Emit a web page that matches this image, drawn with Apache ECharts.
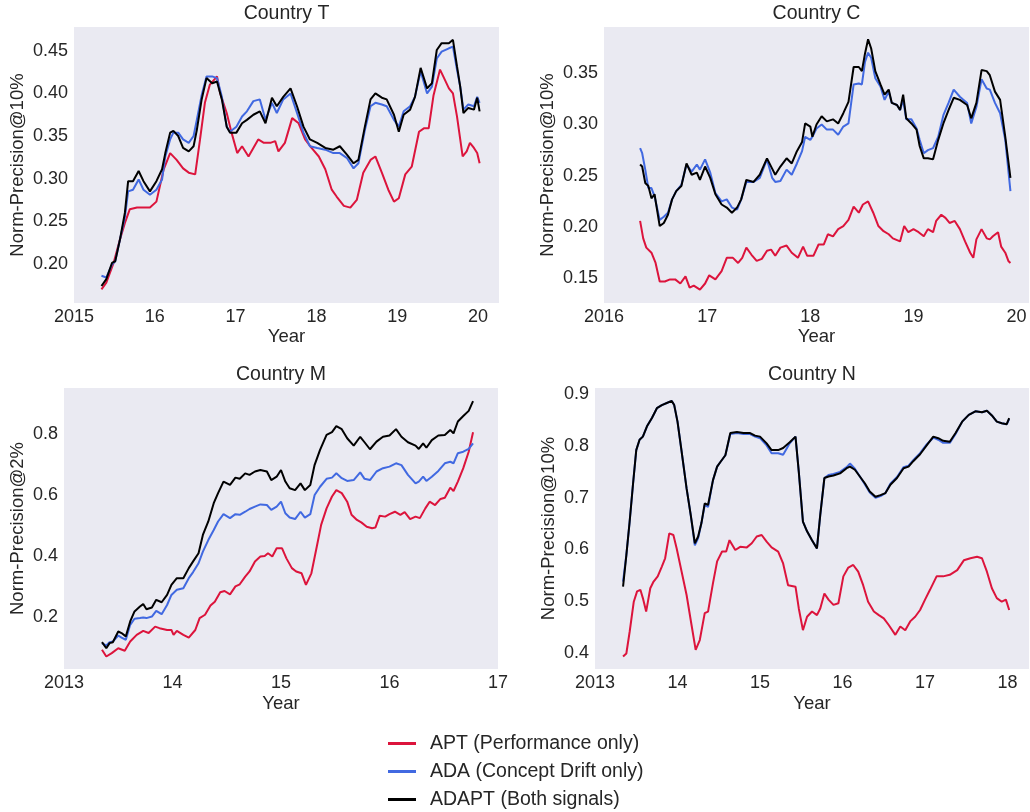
<!DOCTYPE html>
<html>
<head>
<meta charset="utf-8">
<script src="https://cdn.jsdelivr.net/npm/echarts@6/dist/echarts.min.js"></script>
<style>html,body{margin:0;padding:0;background:#fff}#c{width:1030px;height:812px}</style>
</head>
<body>
<div id="c"></div>
<script>
// ---------- Country T ----------
const tYears = [2015.34,2015.40,2015.47,2015.51,2015.57,2015.63,2015.67,2015.73,2015.80,2015.86,2015.94,2016.02,2016.09,2016.13,2016.19,2016.23,2016.29,2016.35,2016.42,2016.48,2016.52,2016.58,2016.64,2016.71,2016.77,2016.83,2016.89,2016.93,2017.01,2017.08,2017.14,2017.22,2017.30,2017.37,2017.45,2017.51,2017.59,2017.68,2017.76,2017.84,2017.92,2018.01,2018.11,2018.21,2018.29,2018.38,2018.46,2018.52,2018.60,2018.67,2018.73,2018.81,2018.87,2018.96,2019.02,2019.08,2019.16,2019.22,2019.29,2019.37,2019.43,2019.49,2019.55,2019.64,2019.69,2019.74,2019.78,2019.82,2019.88,2019.95,2019.99,2020.02];
const tADAPT = [0.174,0.182,0.201,0.203,0.229,0.26,0.297,0.297,0.309,0.297,0.285,0.297,0.311,0.33,0.354,0.356,0.35,0.336,0.332,0.338,0.357,0.393,0.418,0.412,0.414,0.393,0.361,0.354,0.354,0.365,0.369,0.375,0.379,0.365,0.395,0.385,0.396,0.406,0.385,0.361,0.346,0.342,0.336,0.334,0.338,0.328,0.318,0.322,0.361,0.393,0.40,0.395,0.393,0.375,0.355,0.375,0.381,0.396,0.430,0.406,0.412,0.451,0.459,0.459,0.463,0.432,0.408,0.377,0.383,0.381,0.395,0.379];
const tADA = [0.186,0.184,0.199,0.203,0.229,0.255,0.285,0.287,0.299,0.287,0.281,0.287,0.299,0.326,0.346,0.354,0.354,0.346,0.342,0.35,0.369,0.398,0.42,0.42,0.418,0.396,0.361,0.355,0.361,0.373,0.379,0.391,0.393,0.369,0.389,0.377,0.393,0.40,0.377,0.354,0.338,0.336,0.334,0.33,0.33,0.324,0.312,0.318,0.357,0.385,0.389,0.387,0.385,0.369,0.361,0.379,0.385,0.396,0.426,0.40,0.408,0.441,0.449,0.453,0.455,0.428,0.408,0.381,0.387,0.385,0.396,0.389];
const tYearsAPT = [2015.34,2015.40,2015.49,2015.57,2015.63,2015.69,2015.78,2015.86,2015.94,2016.02,2016.11,2016.19,2016.27,2016.35,2016.42,2016.50,2016.56,2016.62,2016.68,2016.77,2016.81,2016.89,2016.95,2017.02,2017.08,2017.16,2017.22,2017.28,2017.35,2017.43,2017.49,2017.53,2017.61,2017.70,2017.78,2017.86,2017.94,2018.03,2018.11,2018.19,2018.25,2018.34,2018.42,2018.50,2018.58,2018.67,2018.73,2018.81,2018.89,2018.96,2019.02,2019.10,2019.18,2019.27,2019.33,2019.39,2019.45,2019.53,2019.57,2019.64,2019.69,2019.74,2019.81,2019.86,2019.90,2019.95,2019.99,2020.02];
const tAPT = [0.170,0.178,0.201,0.229,0.248,0.264,0.266,0.266,0.266,0.273,0.311,0.33,0.322,0.312,0.307,0.305,0.346,0.389,0.410,0.42,0.40,0.377,0.354,0.33,0.338,0.326,0.336,0.346,0.342,0.342,0.344,0.332,0.342,0.371,0.365,0.346,0.336,0.326,0.311,0.287,0.279,0.268,0.266,0.275,0.307,0.322,0.326,0.307,0.287,0.273,0.277,0.305,0.314,0.355,0.359,0.359,0.398,0.428,0.420,0.406,0.40,0.373,0.326,0.332,0.342,0.336,0.33,0.318];

// ---------- Country C ----------
const cYears = [2016.35,2016.37,2016.40,2016.43,2016.46,2016.49,2016.54,2016.58,2016.62,2016.66,2016.70,2016.75,2016.80,2016.85,2016.90,2016.93,2016.98,2017.03,2017.08,2017.14,2017.19,2017.24,2017.29,2017.33,2017.38,2017.45,2017.51,2017.58,2017.63,2017.66,2017.71,2017.77,2017.82,2017.87,2017.92,2017.95,2018.00,2018.02,2018.06,2018.11,2018.16,2018.22,2018.27,2018.32,2018.37,2018.42,2018.47,2018.50,2018.53,2018.56,2018.59,2018.63,2018.68,2018.72,2018.76,2018.79,2018.84,2018.87,2018.90,2018.93,2018.98,2019.03,2019.06,2019.10,2019.14,2019.19,2019.24,2019.29,2019.34,2019.39,2019.45,2019.52,2019.56,2019.61,2019.66,2019.71,2019.74,2019.79,2019.84,2019.89,2019.94];
const cADAPT = [0.261,0.259,0.243,0.24,0.228,0.232,0.201,0.204,0.212,0.227,0.235,0.24,0.262,0.251,0.253,0.246,0.259,0.248,0.232,0.222,0.219,0.214,0.219,0.227,0.246,0.244,0.251,0.267,0.257,0.251,0.259,0.267,0.262,0.274,0.283,0.301,0.298,0.288,0.30,0.308,0.303,0.305,0.301,0.311,0.322,0.356,0.356,0.352,0.369,0.383,0.374,0.352,0.339,0.329,0.334,0.321,0.319,0.314,0.329,0.306,0.301,0.295,0.279,0.267,0.267,0.266,0.285,0.301,0.314,0.326,0.324,0.319,0.306,0.321,0.353,0.352,0.348,0.332,0.324,0.288,0.248];
const cADA = [0.277,0.272,0.256,0.238,0.238,0.23,0.207,0.21,0.214,0.227,0.235,0.241,0.261,0.254,0.261,0.256,0.266,0.253,0.233,0.225,0.227,0.219,0.217,0.227,0.244,0.244,0.248,0.266,0.248,0.244,0.245,0.256,0.251,0.262,0.274,0.288,0.285,0.288,0.296,0.30,0.295,0.295,0.29,0.298,0.301,0.339,0.34,0.339,0.361,0.37,0.365,0.345,0.337,0.324,0.332,0.321,0.319,0.314,0.324,0.305,0.305,0.296,0.285,0.272,0.275,0.277,0.288,0.309,0.321,0.334,0.327,0.321,0.301,0.317,0.344,0.335,0.334,0.321,0.311,0.285,0.235];
const cYearsAPT = [2016.35,2016.38,2016.41,2016.46,2016.50,2016.54,2016.59,2016.64,2016.69,2016.74,2016.79,2016.83,2016.87,2016.93,2016.98,2017.02,2017.08,2017.14,2017.19,2017.25,2017.30,2017.34,2017.38,2017.43,2017.48,2017.53,2017.58,2017.62,2017.66,2017.71,2017.77,2017.82,2017.88,2017.93,2017.97,2018.03,2018.08,2018.13,2018.17,2018.22,2018.27,2018.32,2018.37,2018.42,2018.47,2018.51,2018.56,2018.61,2018.66,2018.71,2018.76,2018.80,2018.87,2018.91,2018.95,2019.00,2019.05,2019.10,2019.14,2019.19,2019.22,2019.27,2019.31,2019.35,2019.40,2019.45,2019.50,2019.55,2019.58,2019.61,2019.66,2019.71,2019.74,2019.77,2019.82,2019.85,2019.89,2019.92,2019.94];
const cAPT = [0.206,0.189,0.18,0.175,0.165,0.147,0.147,0.149,0.149,0.145,0.152,0.141,0.143,0.139,0.145,0.153,0.149,0.157,0.17,0.17,0.165,0.17,0.18,0.173,0.167,0.169,0.177,0.178,0.172,0.18,0.182,0.175,0.17,0.181,0.172,0.172,0.183,0.183,0.193,0.191,0.198,0.201,0.207,0.22,0.214,0.222,0.225,0.214,0.201,0.196,0.193,0.189,0.186,0.201,0.195,0.198,0.195,0.191,0.198,0.195,0.206,0.212,0.209,0.204,0.206,0.198,0.186,0.175,0.17,0.188,0.198,0.189,0.188,0.191,0.195,0.181,0.175,0.167,0.165];

// ---------- Country M ----------
const mYears = [2013.35,2013.39,2013.42,2013.45,2013.50,2013.53,2013.57,2013.61,2013.65,2013.70,2013.73,2013.76,2013.81,2013.85,2013.90,2013.95,2013.99,2014.04,2014.10,2014.15,2014.19,2014.24,2014.28,2014.33,2014.38,2014.42,2014.47,2014.53,2014.58,2014.62,2014.67,2014.71,2014.76,2014.81,2014.87,2014.91,2014.96,2015.00,2015.04,2015.08,2015.13,2015.18,2015.22,2015.27,2015.31,2015.36,2015.42,2015.47,2015.51,2015.56,2015.61,2015.67,2015.73,2015.77,2015.82,2015.88,2015.94,2016.00,2016.06,2016.11,2016.17,2016.24,2016.27,2016.31,2016.34,2016.39,2016.45,2016.51,2016.56,2016.59,2016.63,2016.68,2016.73,2016.77];
const mADAPT = [0.118,0.098,0.115,0.118,0.153,0.148,0.137,0.186,0.219,0.235,0.243,0.226,0.232,0.257,0.249,0.273,0.306,0.328,0.328,0.361,0.383,0.41,0.47,0.514,0.574,0.607,0.645,0.634,0.658,0.654,0.672,0.667,0.678,0.683,0.678,0.65,0.661,0.683,0.645,0.623,0.617,0.639,0.617,0.634,0.70,0.749,0.798,0.807,0.827,0.817,0.787,0.763,0.792,0.774,0.751,0.776,0.792,0.796,0.817,0.792,0.774,0.763,0.752,0.770,0.756,0.781,0.796,0.798,0.814,0.803,0.842,0.86,0.877,0.909];
const mADA = [0.115,0.107,0.118,0.12,0.14,0.133,0.126,0.175,0.195,0.197,0.199,0.197,0.202,0.221,0.21,0.24,0.273,0.29,0.295,0.328,0.348,0.377,0.415,0.453,0.486,0.514,0.538,0.525,0.538,0.536,0.546,0.555,0.563,0.570,0.568,0.552,0.563,0.579,0.541,0.527,0.522,0.546,0.527,0.538,0.601,0.628,0.654,0.658,0.672,0.656,0.647,0.650,0.675,0.654,0.650,0.678,0.689,0.694,0.705,0.699,0.667,0.639,0.645,0.661,0.647,0.661,0.68,0.705,0.710,0.705,0.738,0.743,0.752,0.770];
const mYearsAPT = [2013.35,2013.39,2013.44,2013.50,2013.56,2013.61,2013.67,2013.73,2013.78,2013.84,2013.88,2013.95,2013.99,2014.01,2014.04,2014.10,2014.15,2014.21,2014.25,2014.30,2014.35,2014.39,2014.44,2014.48,2014.53,2014.58,2014.62,2014.67,2014.71,2014.76,2014.81,2014.85,2014.88,2014.92,2014.96,2015.01,2015.05,2015.10,2015.14,2015.19,2015.23,2015.28,2015.33,2015.37,2015.42,2015.47,2015.51,2015.56,2015.61,2015.65,2015.70,2015.74,2015.79,2015.84,2015.87,2015.91,2015.96,2016.00,2016.05,2016.10,2016.14,2016.19,2016.24,2016.28,2016.33,2016.37,2016.42,2016.47,2016.51,2016.56,2016.59,2016.63,2016.68,2016.73,2016.77];
const mAPT = [0.093,0.071,0.082,0.098,0.090,0.120,0.142,0.155,0.148,0.169,0.164,0.158,0.158,0.142,0.155,0.142,0.133,0.158,0.197,0.208,0.238,0.251,0.282,0.286,0.275,0.301,0.308,0.333,0.350,0.383,0.399,0.401,0.410,0.399,0.426,0.426,0.393,0.361,0.350,0.344,0.306,0.344,0.432,0.503,0.557,0.596,0.617,0.607,0.579,0.536,0.519,0.511,0.497,0.492,0.494,0.533,0.530,0.538,0.546,0.536,0.545,0.522,0.530,0.525,0.557,0.579,0.568,0.588,0.592,0.625,0.614,0.645,0.689,0.743,0.807];

// ---------- Country N ----------
const nYears = [2013.34,2013.38,2013.42,2013.46,2013.50,2013.54,2013.58,2013.63,2013.69,2013.75,2013.81,2013.87,2013.93,2013.96,2014.00,2014.05,2014.11,2014.16,2014.21,2014.25,2014.29,2014.33,2014.37,2014.43,2014.48,2014.52,2014.58,2014.64,2014.72,2014.80,2014.88,2014.94,2015.00,2015.08,2015.14,2015.22,2015.28,2015.36,2015.43,2015.47,2015.52,2015.57,2015.63,2015.69,2015.73,2015.78,2015.83,2015.89,2015.97,2016.05,2016.09,2016.15,2016.21,2016.27,2016.33,2016.40,2016.46,2016.52,2016.58,2016.66,2016.74,2016.80,2016.86,2016.94,2017.02,2017.10,2017.16,2017.22,2017.30,2017.37,2017.45,2017.53,2017.61,2017.69,2017.75,2017.81,2017.87,2017.93,2017.99,2018.02];
const nADAPT = [0.528,0.589,0.654,0.725,0.792,0.812,0.818,0.838,0.854,0.873,0.879,0.883,0.887,0.879,0.847,0.789,0.718,0.667,0.612,0.625,0.651,0.689,0.686,0.734,0.76,0.769,0.782,0.825,0.827,0.825,0.825,0.82,0.818,0.805,0.792,0.792,0.796,0.807,0.818,0.75,0.654,0.635,0.618,0.602,0.667,0.738,0.741,0.743,0.747,0.757,0.76,0.754,0.741,0.728,0.712,0.702,0.705,0.709,0.725,0.738,0.757,0.76,0.771,0.784,0.801,0.818,0.815,0.81,0.808,0.825,0.847,0.86,0.867,0.865,0.868,0.859,0.847,0.844,0.842,0.854];
const nADA = [0.538,0.589,0.654,0.725,0.792,0.812,0.818,0.838,0.854,0.873,0.879,0.883,0.887,0.879,0.847,0.789,0.718,0.667,0.608,0.622,0.651,0.686,0.682,0.734,0.76,0.769,0.782,0.823,0.825,0.823,0.823,0.818,0.815,0.801,0.786,0.786,0.783,0.805,0.818,0.75,0.654,0.635,0.618,0.602,0.667,0.738,0.744,0.746,0.75,0.759,0.766,0.756,0.741,0.726,0.71,0.7,0.703,0.709,0.727,0.74,0.759,0.762,0.773,0.786,0.803,0.816,0.812,0.806,0.806,0.823,0.847,0.86,0.867,0.865,0.868,0.859,0.847,0.844,0.842,0.852];
const nYearsAPT = [2013.34,2013.38,2013.42,2013.47,2013.51,2013.55,2013.58,2013.62,2013.67,2013.71,2013.76,2013.81,2013.85,2013.90,2013.95,2013.99,2014.05,2014.11,2014.17,2014.22,2014.27,2014.33,2014.37,2014.43,2014.48,2014.54,2014.59,2014.63,2014.70,2014.76,2014.84,2014.90,2014.96,2015.02,2015.08,2015.14,2015.22,2015.28,2015.34,2015.43,2015.47,2015.52,2015.57,2015.63,2015.69,2015.73,2015.78,2015.83,2015.89,2015.95,2016.01,2016.07,2016.13,2016.19,2016.25,2016.31,2016.38,2016.44,2016.50,2016.56,2016.64,2016.70,2016.76,2016.82,2016.88,2016.94,2017.00,2017.06,2017.14,2017.22,2017.30,2017.39,2017.47,2017.55,2017.63,2017.69,2017.75,2017.81,2017.87,2017.93,2017.98,2018.02];
const nAPT = [0.393,0.399,0.441,0.499,0.519,0.522,0.506,0.48,0.525,0.538,0.548,0.567,0.583,0.631,0.628,0.602,0.557,0.512,0.454,0.406,0.425,0.477,0.48,0.535,0.577,0.596,0.596,0.618,0.599,0.605,0.604,0.612,0.625,0.628,0.615,0.604,0.596,0.573,0.531,0.528,0.486,0.444,0.47,0.48,0.473,0.486,0.515,0.503,0.493,0.496,0.548,0.565,0.57,0.557,0.531,0.499,0.48,0.473,0.467,0.454,0.435,0.451,0.444,0.461,0.47,0.483,0.503,0.522,0.548,0.548,0.551,0.56,0.579,0.583,0.586,0.583,0.557,0.525,0.506,0.499,0.503,0.483];

// ---------- Titles, names, ticks ----------
const panelTitles = ['Country T', 'Country C', 'Country M', 'Country N'];
const yNames = ['Norm-Precision@10%', 'Norm-Precision@10%', 'Norm-Precision@2%', 'Norm-Precision@10%'];
const seriesNames = ['APT (Performance only)', 'ADA (Concept Drift only)', 'ADAPT (Both signals)'];
const tXTicks = [2015, 2016, 2017, 2018, 2019, 2020];
const tXLabels = ['2015', '16', '17', '18', '19', '20'];
const cXTicks = [2016, 2017, 2018, 2019, 2020];
const cXLabels = ['2016', '17', '18', '19', '20'];
const mXTicks = [2013, 2014, 2015, 2016, 2017];
const mXLabels = ['2013', '14', '15', '16', '17'];
const nXTicks = [2013, 2014, 2015, 2016, 2017, 2018];
const nXLabels = ['2013', '14', '15', '16', '17', '18'];
const tYTicks = [0.20, 0.25, 0.30, 0.35, 0.40, 0.45];
const tYLabels = ['0.20', '0.25', '0.30', '0.35', '0.40', '0.45'];
const cYTicks = [0.15, 0.20, 0.25, 0.30, 0.35];
const cYLabels = ['0.15', '0.20', '0.25', '0.30', '0.35'];
const mYTicks = [0.2, 0.4, 0.6, 0.8];
const mYLabels = ['0.2', '0.4', '0.6', '0.8'];
const nYTicks = [0.4, 0.5, 0.6, 0.7, 0.8, 0.9];
const nYLabels = ['0.4', '0.5', '0.6', '0.7', '0.8', '0.9'];

const FONT = '"Liberation Sans", Arial, sans-serif';
const TXT = '#262626';
const COLORS = ['#DC143C', '#4169E1', '#000000'];

const panels = [
  {grid: {left: 74, top: 27, width: 425, height: 276}, xr: [2015, 2020.26], yr: [0.154, 0.478],
   xt: tXTicks, xl: tXLabels, yt: tYTicks, yl: tYLabels, yGap: 47, xGap: 24,
   apt: [tYearsAPT, tAPT], ada: [tYears, tADA], adapt: [tYears, tADAPT], titleTop: 4},
  {grid: {left: 604, top: 27, width: 425, height: 276}, xr: [2016, 2020.12], yr: [0.126, 0.395],
   xt: cXTicks, xl: cXLabels, yt: cYTicks, yl: cYLabels, yGap: 47, xGap: 24,
   apt: [cYearsAPT, cAPT], ada: [cYears, cADA], adapt: [cYears, cADAPT], titleTop: 4},
  {grid: {left: 64, top: 388, width: 434, height: 281}, xr: [2013, 2017], yr: [0.03, 0.952],
   xt: mXTicks, xl: mXLabels, yt: mYTicks, yl: mYLabels, yGap: 37, xGap: 25,
   apt: [mYearsAPT, mAPT], ada: [mYears, mADA], adapt: [mYears, mADAPT], titleTop: 365},
  {grid: {left: 595, top: 388, width: 434, height: 281}, xr: [2013, 2018.26], yr: [0.369, 0.912],
   xt: nXTicks, xl: nXLabels, yt: nYTicks, yl: nYLabels, yGap: 37, xGap: 25,
   apt: [nYearsAPT, nAPT], ada: [nYears, nADA], adapt: [nYears, nADAPT], titleTop: 365}
];

function pairs(xs, ys) { return xs.map((x, i) => [x, ys[i]]); }
function labelFor(ticks, labels) {
  return function (v) {
    for (let i = 0; i < ticks.length; i++) if (Math.abs(ticks[i] - v) < 1e-6) return labels[i];
    return '';
  };
}

const option = {
  animation: false,
  backgroundColor: '#ffffff',
  textStyle: {fontFamily: FONT, color: TXT},
  title: panels.map((p, i) => ({
    text: panelTitles[i], left: p.grid.left + p.grid.width / 2, top: p.titleTop,
    textAlign: 'center', padding: 0,
    textStyle: {fontFamily: FONT, fontSize: 19.5, fontWeight: 'normal', color: TXT}
  })),
  grid: panels.map(p => Object.assign({show: true, backgroundColor: '#EAEAF2', borderWidth: 0, containLabel: false}, p.grid)),
  xAxis: panels.map((p, i) => ({
    type: 'value', gridIndex: i, min: p.xr[0], max: p.xr[1],
    name: 'Year', nameLocation: 'middle', nameGap: p.xGap,
    nameTextStyle: {fontFamily: FONT, fontSize: 18.5, color: TXT},
    axisLine: {show: false}, axisTick: {show: false}, splitLine: {show: false},
    axisLabel: {customValues: p.xt, formatter: labelFor(p.xt, p.xl), fontFamily: FONT, fontSize: 18, color: TXT, margin: 5, showMinLabel: true, showMaxLabel: true}
  })),
  yAxis: panels.map((p, i) => ({
    type: 'value', gridIndex: i, min: p.yr[0], max: p.yr[1],
    name: yNames[i], nameLocation: 'middle', nameGap: p.yGap,
    nameTextStyle: {fontFamily: FONT, fontSize: 18.5, color: TXT},
    axisLine: {show: false}, axisTick: {show: false}, splitLine: {show: false},
    axisLabel: {customValues: p.yt, formatter: labelFor(p.yt, p.yl), fontFamily: FONT, fontSize: 18, color: TXT, margin: 6}
  })),
  legend: {
    data: seriesNames, orient: 'vertical', left: 388, top: 733.5, padding: 0,
    icon: 'rect', itemWidth: 28, itemHeight: 3, itemGap: 8,
    textStyle: {fontFamily: FONT, fontSize: 19.5, color: TXT, lineHeight: 19.5, padding: [0, 0, 0, 9]}
  },
  series: []
};

panels.forEach((p, i) => {
  [[p.apt, 0], [p.ada, 1], [p.adapt, 2]].forEach(([d, k]) => {
    option.series.push({
      type: 'line', name: seriesNames[k], xAxisIndex: i, yAxisIndex: i,
      data: pairs(d[0], d[1]), symbol: 'none', showSymbol: false,
      lineStyle: {color: COLORS[k], width: 2}, itemStyle: {color: COLORS[k]},
      z: 2 + k
    });
  });
});

const chart = echarts.init(document.getElementById('c'), null, {renderer: 'canvas'});
chart.setOption(option);
</script>
</body>
</html>
